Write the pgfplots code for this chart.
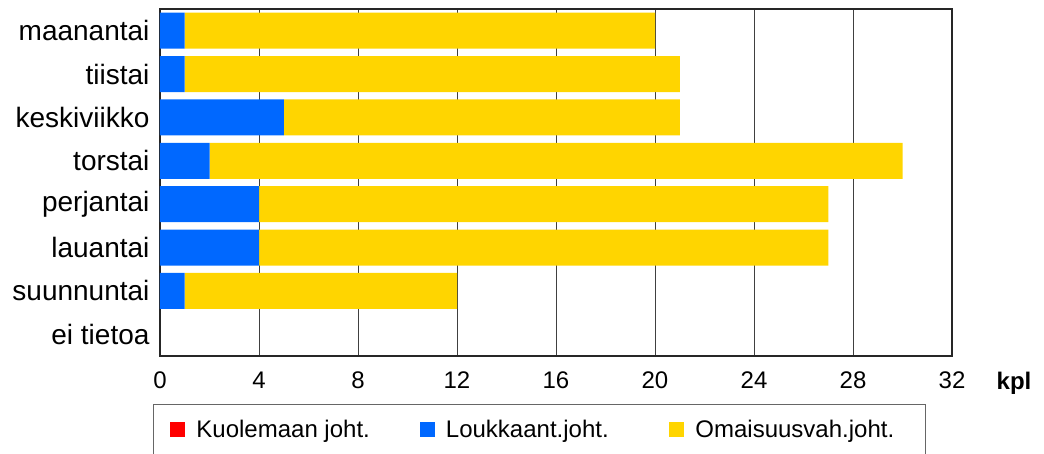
\documentclass[border=0pt]{standalone}
\usepackage{fontspec}
\setmainfont{Liberation Sans}
\usepackage{pgfplots}
\pgfplotsset{compat=1.18}
\definecolor{kuol}{HTML}{FF0000}
\definecolor{louk}{HTML}{0068FF}
\definecolor{omai}{HTML}{FFD500}
\begin{document}
\begin{tikzpicture}[x=1pt,y=1pt]
\useasboundingbox (0,0) rectangle (1044,453);
\begin{axis}[
  at={(160pt,97pt)}, anchor=south west,
  scale only axis, width=792pt, height=347pt,
  xbar stacked, bar width=0.83,
  xmin=0, xmax=32, xtick={0,4,...,32},
  ymin=-0.5, ymax=7.5, y dir=reverse,
  ytick={0,...,7},
  yticklabels={maanantai,tiistai,keskiviikko,torstai,perjantai,lauantai,suunnuntai,ei tietoa},
  major tick length=0pt,
  xmajorgrids, grid style={black!75, line width=0.9pt},
  axis line style={black!85, line width=1.3pt},
  /pgf/number format/assume math mode=true,
  xticklabel style={font=\fontsize{24}{28}\selectfont, yshift=-12pt},
  yticklabel style={font=\fontsize{28}{34}\selectfont, xshift=-7pt},
  every axis plot post/.append style={
    legend image code/.code={\fill[##1] (0pt,-7.5pt) rectangle (15pt,7.5pt);}},
  legend columns=3,
  legend cell align=left,
  legend style={at={(rel axis cs:-0.00884,-0.1383)}, anchor=north west,
    draw=black!60, line width=0.9pt, inner xsep=17pt, inner ysep=16pt,
    nodes={inner sep=0pt},
    /tikz/every odd column/.append style={column sep=11pt},
    font=\fontsize{24}{28}\selectfont},
]
\addplot[fill=kuol, draw=none] coordinates {(0,0) (0,1) (0,2) (0,3) (0,4) (0,5) (0,6) (0,7)};
\addlegendentry{\makebox[223.5pt][l]{Kuolemaan joht.}}
\addplot[fill=louk, draw=none] coordinates {(1,0) (1,1) (5,2) (2,3) (4,4) (4,5) (1,6) (0,7)};
\addlegendentry{\makebox[223.5pt][l]{Loukkaant.joht.}}
\addplot[fill=omai, draw=none] coordinates {(19,0) (20,1) (16,2) (28,3) (23,4) (23,5) (11,6) (0,7)};
\addlegendentry{\makebox[213pt][l]{Omaisuusvah.joht.}}
\end{axis}
\node[font=\bfseries\fontsize{24}{28}\selectfont, anchor=base] at (1014,64) {kpl};
\end{tikzpicture}
\end{document}
